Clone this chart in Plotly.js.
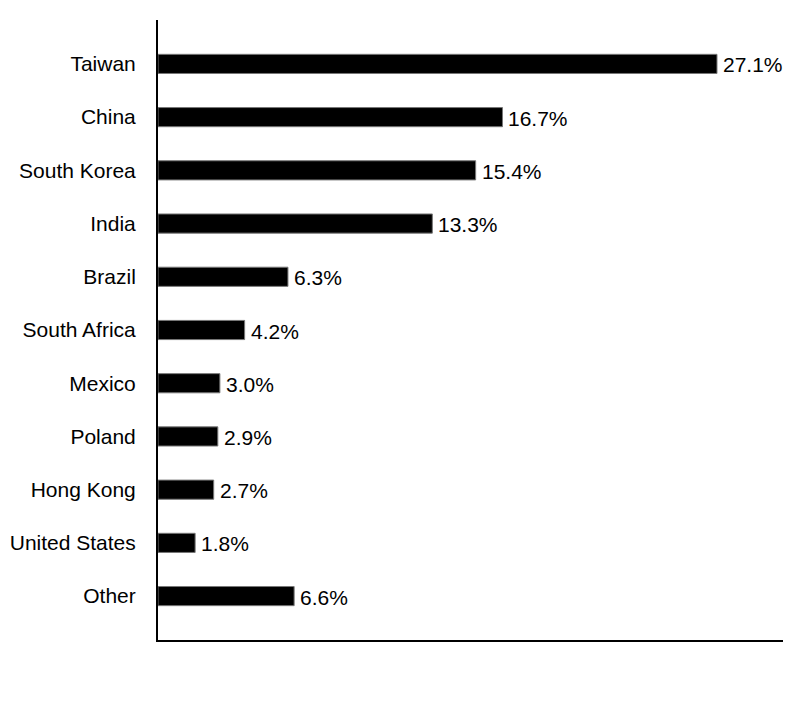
<!DOCTYPE html>
<html>
<head>
<meta charset="utf-8">
<script src="https://cdn.plot.ly/plotly-3.0.1.min.js"></script>
<style>
  body { margin: 0; background: #fff; }
  #chart { width: 804px; height: 720px; }
</style>
</head>
<body>
<div id="chart"></div>
<script>
var countries = ["Taiwan", "China", "South Korea", "India", "Brazil", "South Africa",
                 "Mexico", "Poland", "Hong Kong", "United States", "Other"];
var shares = [27.1, 16.7, 15.4, 13.3, 6.3, 4.2, 3.0, 2.9, 2.7, 1.8, 6.6];
var shareLabels = shares.map(function (v) { return v.toFixed(1) + "%"; });

var fontFamily = "Liberation Sans, Arial, sans-serif";

var trace = {
  type: "bar",
  orientation: "h",
  x: shares,
  y: countries,
  width: 0.36,
  marker: { color: "#000", line: { color: "#777", width: 1 } },
  hoverinfo: "none"
};

// value labels just right of each bar end
var labels = [];
for (var i = 0; i < countries.length; i++) {
  labels.push({
    x: shares[i],
    y: countries[i],
    xref: "x",
    yref: "y",
    text: shareLabels[i],
    showarrow: false,
    xanchor: "left",
    yanchor: "middle",
    xshift: 4,
    yshift: -1,
    font: { family: fontFamily, size: 21, color: "#000" }
  });
}

var layout = {
  width: 804,
  height: 720,
  margin: { l: 158, r: 21, t: 20, b: 80 },
  paper_bgcolor: "#fff",
  plot_bgcolor: "#fff",
  showlegend: false,
  font: { family: fontFamily, size: 21, color: "#000" },
  annotations: labels,
  xaxis: {
    range: [0, 30.3],
    showticklabels: false,
    ticks: "",
    showgrid: false,
    zeroline: false,
    showline: true,
    linecolor: "#000",
    linewidth: 2
  },
  yaxis: {
    type: "category",
    categoryorder: "array",
    categoryarray: countries,
    range: [10.825, -0.825],
    ticks: "",
    ticklabelstandoff: 16,
    showgrid: false,
    zeroline: false,
    showline: true,
    linecolor: "#000",
    linewidth: 2
  }
};

Plotly.newPlot("chart", [trace], layout, { displayModeBar: false, staticPlot: true });
</script>
</body>
</html>
